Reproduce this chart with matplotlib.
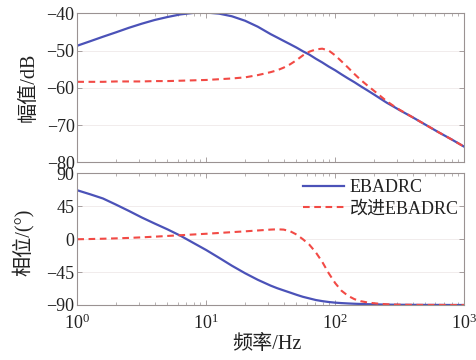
import matplotlib
matplotlib.use("Agg")
import matplotlib.pyplot as plt
from matplotlib.ticker import LogLocator, NullFormatter, LogFormatterMathtext

plt.rcParams['font.family'] = ['Liberation Serif', 'Noto Sans CJK SC']
plt.rcParams['mathtext.fontset'] = 'stix'
plt.rcParams['axes.unicode_minus'] = True

# Frequency points (Hz)
freq = [1.0, 1.26, 1.58, 2.0, 2.51, 3.16, 3.98, 5.01, 6.31, 7.94,
        10.0, 12.6, 15.8, 20.0, 25.1, 31.6, 35.5, 39.8, 44.7, 50.1,
        56.2, 63.1, 70.8, 79.4, 89.1, 100, 112, 126, 141, 158,
        178, 200, 224, 251, 282, 316, 398, 501, 631, 794, 1000]

# Magnitude (dB)
mag_ebadrc = [-48.7, -47.5, -46.3, -45.1, -43.9, -42.8, -41.8, -41.0, -40.3, -39.9,
              -39.8, -40.1, -40.8, -42.0, -43.6, -45.6, -46.5, -47.4, -48.3, -49.2,
              -50.2, -51.1, -52.2, -53.2, -54.3, -55.3, -56.4, -57.5, -58.5, -59.6,
              -60.7, -61.8, -62.9, -64.0, -65.0, -66.0, -67.9, -69.9, -71.9, -73.8, -75.8]
mag_improved = [-58.4, -58.4, -58.4, -58.3, -58.3, -58.3, -58.2, -58.2, -58.1, -58.0,
                -57.9, -57.7, -57.5, -57.2, -56.6, -55.8, -55.3, -54.6, -53.7, -52.6,
                -51.3, -50.3, -49.7, -49.5, -50.0, -51.3, -52.9, -54.6, -56.3, -57.9,
                -59.4, -60.8, -62.2, -63.6, -64.8, -65.9, -67.9, -69.9, -71.9, -73.8, -75.8]

# Phase (deg)
phase_ebadrc = [67.0, 61.5, 55.8, 47.3, 38.8, 29.8, 21.5, 13.5, 4.8, -5.0,
                -14.8, -25.5, -36.2, -46.5, -55.5, -63.5, -67.0, -70.0, -73.0, -76.0,
                -78.8, -81.0, -83.2, -84.7, -85.9, -86.8, -87.4, -87.9, -88.3, -88.6,
                -88.9, -89.1, -89.3, -89.5, -89.6, -89.7, -89.8, -89.9, -89.9, -90.0, -90.0]
phase_improved = [0.0, 0.3, 0.7, 1.2, 1.8, 2.6, 3.5, 4.5, 5.5, 6.5,
                  7.5, 8.6, 9.7, 10.8, 12.0, 13.2, 13.6, 13.2, 11.0, 6.5,
                  0.0, -7.5, -18.0, -31.0, -46.5, -60.0, -70.5, -77.5, -82.0, -84.8,
                  -86.5, -87.6, -88.4, -89.0, -89.4, -89.6, -89.8, -89.9, -89.9, -90.0, -90.0]

labels = ['EBADRC', '改进EBADRC']
mag_ticks = [-40, -50, -60, -70, -80]
phase_ticks = [90, 45, 0, -45, -90]

blue = '#4b52b8'
red = '#f24a45'
spine_c = '#9a9292'
text_c = '#222222'
tick_fs = 13
label_fs = 14.5
legend_fs = 13

fig = plt.figure(figsize=(4.76, 3.6), dpi=100)
ax1 = fig.add_axes([0.1624, 0.5492, 0.8126, 0.4139])
ax2 = fig.add_axes([0.1624, 0.1528, 0.8126, 0.3653])

dash = (0, (3.2, 2.2))
ax1.plot(freq, mag_ebadrc, color=blue, lw=1.6, label=labels[0])
ax1.plot(freq, mag_improved, color=red, lw=1.5, ls=dash, label=labels[1])
ax2.plot(freq, phase_ebadrc, color=blue, lw=1.6, label=labels[0])
ax2.plot(freq, phase_improved, color=red, lw=1.5, ls=dash, label=labels[1])

for ax in (ax1, ax2):
    ax.set_xscale('log')
    ax.set_xlim(1, 1000)
    ax.xaxis.set_major_locator(LogLocator(base=10, numticks=10))
    ax.xaxis.set_minor_locator(LogLocator(base=10, subs=range(2, 10), numticks=20))
    ax.xaxis.set_minor_formatter(NullFormatter())
    ax.tick_params(which='both', direction='in', top=True, right=True,
                   colors=spine_c, labelcolor=text_c, labelsize=tick_fs)
    ax.tick_params(which='major', length=3.5, width=0.6, pad=2)
    ax.tick_params(which='minor', length=2, width=0.5)
    for s in ax.spines.values():
        s.set_color(spine_c)
        s.set_linewidth(0.8)
    ax.grid(axis='y', color='#efe9e9', lw=0.6)
    ax.set_axisbelow(True)

ax1.set_ylim(-80, -40)
ax1.set_yticks(mag_ticks)
ax1.xaxis.set_major_formatter(NullFormatter())
ax1.set_ylabel('幅值/dB', fontsize=label_fs, color=text_c)
ax1.yaxis.set_label_coords(-0.099, 0.5)

ax2.set_ylim(-90, 90)
ax2.set_yticks(phase_ticks)
ax2.xaxis.set_major_formatter(LogFormatterMathtext())
ax2.tick_params(axis='x', pad=6)
ax2.set_ylabel('相位/(°)', fontsize=label_fs, color=text_c)
ax2.yaxis.set_label_coords(-0.112, 0.48)
ax2.set_xlabel('频率/Hz', fontsize=label_fs, color=text_c)
ax2.xaxis.set_label_coords(0.49, -0.225)

leg = ax2.legend(loc='upper right', frameon=False, fontsize=legend_fs,
                 handlelength=2.3, handletextpad=0.3, labelspacing=0.25,
                 borderaxespad=0.1, borderpad=0.2)
for t in leg.get_texts():
    t.set_color(text_c)

fig.savefig('out.png', dpi=100)
